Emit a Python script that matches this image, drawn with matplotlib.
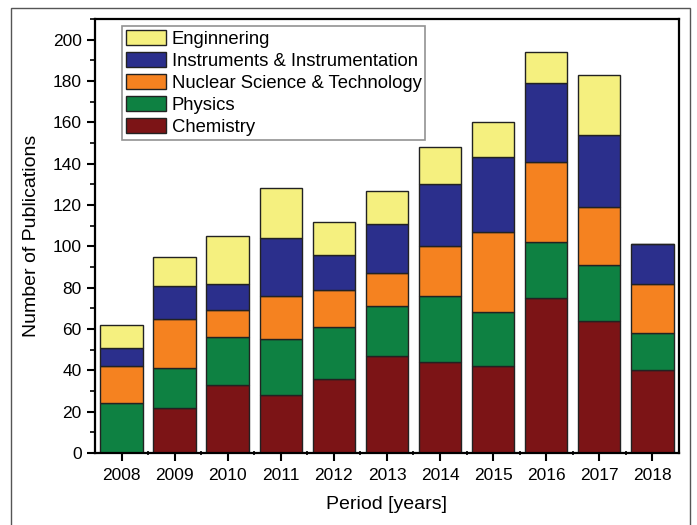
import matplotlib
matplotlib.use('Agg')
import matplotlib.pyplot as plt
from matplotlib.patches import Rectangle
from matplotlib.ticker import MultipleLocator, FixedLocator

years = [2008, 2009, 2010, 2011, 2012, 2013, 2014, 2015, 2016, 2017, 2018]
chemistry = [0, 22, 33, 28, 36, 47, 44, 42, 75, 64, 40]
physics = [24, 19, 23, 27, 25, 24, 32, 26, 27, 27, 18]
nuclear = [18, 24, 13, 21, 18, 16, 24, 39, 39, 28, 24]
instruments = [9, 16, 13, 28, 17, 24, 30, 36, 38, 35, 19]
engineering = [11, 14, 23, 24, 16, 16, 18, 17, 15, 29, 0]

series = [
    ('Chemistry', chemistry, '#7c1416'),
    ('Physics', physics, '#0e8142'),
    ('Nuclear Science & Technology', nuclear, '#f58220'),
    ('Instruments & Instrumentation', instruments, '#2b2f8c'),
    ('Enginnering', engineering, '#f5f07f'),
]

plt.rcParams['font.family'] = ['Liberation Sans', 'DejaVu Sans']

fig = plt.figure(figsize=(6.97, 5.25), dpi=100)
ax = fig.add_axes([0.1363, 0.1371, 0.8377, 0.8267])

# outer frame around the figure
fig.patches.append(Rectangle((11/697, -0.02), 679/697, 1 - 8/525 + 0.02,
                             transform=fig.transFigure, fill=False,
                             edgecolor='#555555', linewidth=1.0))

bottom = [0]*len(years)
handles = []
for name, vals, col in series:
    b = ax.bar(years, vals, width=0.8, bottom=bottom, color=col,
               edgecolor='#222222', linewidth=1.0, label=name)
    handles.append(b)
    bottom = [a + v for a, v in zip(bottom, vals)]

ax.set_xlim(2007.5, 2018.5)
ax.set_ylim(0, 210)
ax.set_xticks(years)
ax.set_xticklabels([str(y) for y in years])
ax.xaxis.set_minor_locator(FixedLocator([y + 0.5 for y in years[:-1]]))
ax.yaxis.set_major_locator(MultipleLocator(20))
ax.yaxis.set_minor_locator(MultipleLocator(10))
ax.tick_params(axis='both', which='major', length=6, width=1.5, labelsize=12.5, direction='out')
ax.tick_params(axis='x', which='major', pad=5)
ax.tick_params(axis='x', which='minor', length=3, width=1.2, direction='inout')
ax.tick_params(axis='y', which='minor', length=3.5, width=1.2, direction='out')
for s in ax.spines.values():
    s.set_linewidth(1.6)

ax.set_ylabel('Number of Publications', fontsize=14, labelpad=9)
ax.set_xlabel('Period [years]', fontsize=14, labelpad=9)

leg = ax.legend(handles[::-1], [s[0] for s in series][::-1], loc='upper left',
                bbox_to_anchor=(0.046, 0.984), fontsize=13.3, frameon=True,
                fancybox=False, edgecolor='#777777', handlelength=2.2,
                handleheight=0.9, labelspacing=0.22, borderpad=0.2,
                handletextpad=0.3, borderaxespad=0)
leg.get_frame().set_linewidth(1.2)

fig.savefig('out.png', dpi=100)
